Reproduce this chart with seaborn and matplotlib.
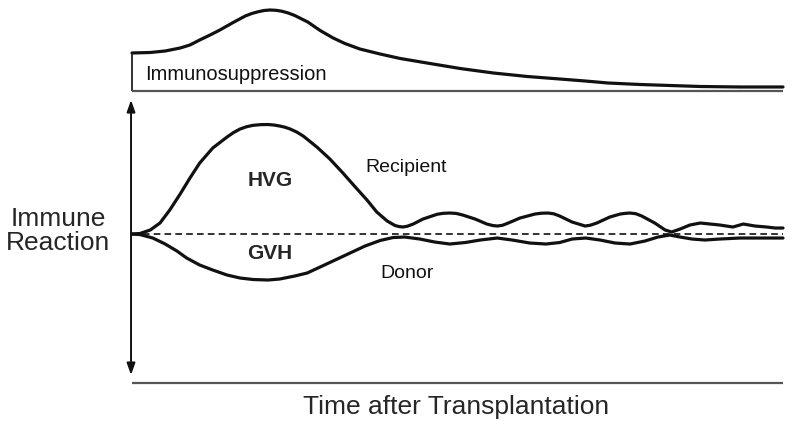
import matplotlib
matplotlib.use("Agg")
import matplotlib.pyplot as plt
import seaborn as sns
import numpy as np
import pandas as pd

# time after transplantation (arbitrary units, 0-100)
imm_time = [0.0, 2.8, 5.1, 7.4, 8.9, 10.4, 12.0, 13.5, 15.4, 17.4, 18.4, 19.4, 20.3,
            21.2, 22.1, 23.0, 24.0, 25.0, 27.0, 28.9, 30.9, 32.7, 35.0, 38.1, 41.2,
            45.3, 50.4, 55.5, 60.7, 65.7, 69.6, 73.1, 78.0, 82.6, 87.3, 93.4, 100.0]
imm_level = [38, 38.5, 40, 43, 46, 51, 56, 61, 68, 75, 77.5, 79.3, 80.5,
             81, 80.7, 79.8, 78, 75.5, 69, 60.5, 53, 47.5, 42, 37, 32.5,
             28, 22.5, 18, 14.5, 12, 10, 8, 6.5, 5.5, 4.5, 4, 4]

rec_time = [0.0, 1.2, 2.8, 4.3, 5.8, 7.4, 8.9, 10.4, 12.4, 14.6, 15.6, 16.6, 17.6,
            18.6, 19.8, 20.9, 21.8, 22.7, 23.5, 24.3, 25.3, 26.3, 28.4, 30.4, 32.4,
            34.3, 36.1, 37.6, 39.2, 40.4, 41.0, 41.6, 42.3, 43.2, 44.7, 46.9, 47.8,
            48.8, 49.8, 50.8, 52.7, 54.5, 55.4, 56.1, 56.9, 57.8, 59.6, 61.9, 62.9,
            63.9, 64.8, 65.7, 67.6, 69.6, 70.4, 71.4, 73.4, 75.0, 75.8, 76.5, 77.4,
            78.3, 80.3, 81.9, 82.9, 84.2, 85.7, 87.3, 88.8, 90.3, 92.3, 93.9, 95.7,
            97.5, 98.8, 100.0]
rec_value = [0, 0.5, 4, 11, 24, 40, 56, 71, 86, 97, 101.5, 105, 107.3,
             108.7, 109.4, 109.5, 109, 108, 106.8, 105, 102, 98, 87, 75, 61,
             47, 34, 22, 13, 8.5, 7.5, 7, 7.8, 10, 15, 19.8, 20.7,
             21, 20.6, 19, 15, 10, 8.5, 8, 8.7, 11, 16, 20, 20.8,
             21, 20.2, 18, 12, 8, 8.8, 11, 17, 20, 20.7, 21, 20.3,
             18, 11, 4, 2, 5, 9, 11, 10, 9, 7, 10, 8,
             7, 6, 6]

don_time = [0.0, 1.2, 3.2, 5.1, 6.9, 8.4, 10.4, 12.4, 14.6, 16.6, 18.6, 20.9, 22.7,
            25.0, 26.9, 28.9, 31.2, 33.5, 35.8, 38.1, 40.1, 41.9, 44.2, 46.5, 48.8,
            51.2, 53.5, 56.1, 58.4, 61.1, 63.6, 65.7, 67.6, 69.7, 71.9, 74.2, 76.5,
            78.8, 80.8, 82.6, 84.2, 86.0, 88.0, 90.3, 93.4, 96.5, 100.0]
don_value = [0, -0.5, -4, -10, -17, -24, -31, -36, -41, -44, -45.5, -46, -45,
             -42, -39, -33, -26, -19, -12, -6.5, -3.5, -3, -5, -8, -10,
             -8.5, -6, -4, -6, -9, -10, -8.5, -5, -4, -6, -9, -10,
             -7, -3, -1, -3, -5, -6, -5, -4, -4, -4]

sns.set_style("white")
plt.rcParams['font.family'] = ['Liberation Sans', 'DejaVu Sans']

fig = plt.figure(figsize=(8, 4.3), dpi=100)
ax_top = fig.add_axes([0.165, 0.7791, 0.81375, 0.2209])
ax = fig.add_axes([0.165, 0.0930, 0.81375, 0.6860])

line_kw = dict(color="#111111", lw=2.3, clip_on=False,
               solid_capstyle="round", solid_joinstyle="round")

# immunosuppression panel
sns.lineplot(x=imm_time, y=imm_level, ax=ax_top, **line_kw)
ax_top.vlines(imm_time[0], 0, imm_level[0], color="#222222", lw=1.3, clip_on=False)
ax_top.hlines(0, imm_time[0], imm_time[-1], color="#555555", lw=1.6, clip_on=False)
ax_top.text(2.0, 16, "Immunosuppression", fontsize=14.5, va="center", ha="left",
            color="#111111")
ax_top.set_xlim(0, 100)
ax_top.set_ylim(-4, 91)
ax_top.axis("off")

# immune reaction panel
ax.hlines(0, 0, 100, color="#111111", lw=1.2, linestyles=(0, (4, 2.5)))
sns.lineplot(x=rec_time, y=rec_value, ax=ax, **line_kw)
sns.lineplot(x=don_time, y=don_value, ax=ax, **line_kw)
ax.annotate("", xy=(-0.15, 134), xytext=(-0.15, -141),
            arrowprops=dict(arrowstyle="<|-|>,head_length=0.7,head_width=0.25",
                            mutation_scale=10, lw=1.4, color="#111111",
                            shrinkA=0, shrinkB=0),
            annotation_clip=False)
ax.hlines(-149, 0, 100, color="#555555", lw=1.6, clip_on=False)

ax.text(21.2, 54, "HVG", fontsize=15, fontweight="bold", ha="center", va="center")
ax.text(21.2, -19, "GVH", fontsize=15, fontweight="bold", ha="center", va="center")
ax.text(35.8, 67, "Recipient", fontsize=14, ha="left", va="center", color="#111111")
ax.text(38.1, -39, "Donor", fontsize=14, ha="left", va="center", color="#111111")
ax.set_xlim(0, 100)
ax.set_ylim(-156, 139)
ax.axis("off")

fig.text(0.0725, 1 - 219 / 430, "Immune", fontsize=19, ha="center", va="center")
fig.text(0.0725, 1 - 243 / 430, "Reaction", fontsize=19, ha="center", va="center")
fig.text(0.57, 1 - 407 / 430, "Time after Transplantation", fontsize=19,
         ha="center", va="center")

fig.savefig("out.png", dpi=100)
